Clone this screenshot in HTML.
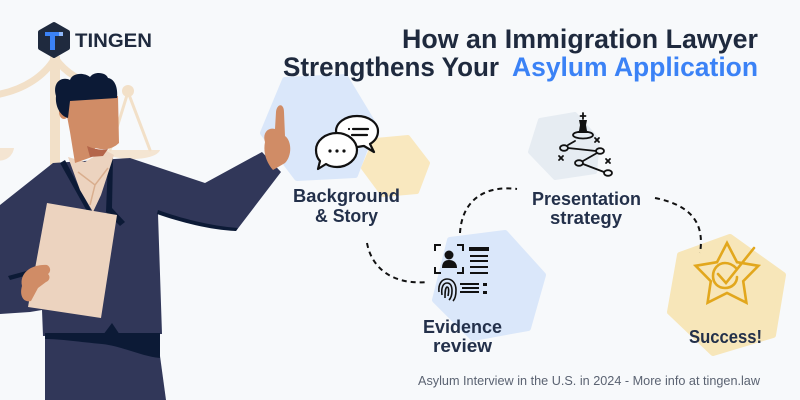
<!DOCTYPE html>
<html><head><meta charset="utf-8"><style>
html,body{margin:0;padding:0;background:#f7f9fb;}
svg{display:block;}
text{font-family:"Liberation Sans",sans-serif;}
</style></head><body>
<svg width="800" height="400" viewBox="0 0 800 400" xmlns="http://www.w3.org/2000/svg">
<rect width="800" height="400" fill="#f7f9fb"/>

<!-- Scales of justice -->
<g fill="none" stroke="#f2e0c8" stroke-linecap="round">
  <rect x="50" y="56" width="10" height="120" fill="#f2e0c8" stroke="none"/>
  <path d="M55,58 C45,75 25,90 -5,95" stroke-width="7"/>
  <path d="M55,58 C65,72 80,82 100,86" stroke-width="7"/>
  <path d="M128,92 L110,150 M128,92 L150,150" stroke-width="3"/>
</g>
<circle cx="128" cy="91" r="6" fill="#f2e0c8"/>
<path d="M104,150 L160,150 C156,162 108,162 104,150 Z" fill="#f2e0c8" opacity="0.8"/>
<path d="M-5,148 L14,148 C12,160 0,162 -5,160 Z" fill="#f2e0c8" opacity="0.8"/>

<!-- Hexagons -->
<polygon points="285,80 345,77 374,125 355,175 297,178 263,133" fill="#dae7fa" stroke="#dae7fa" stroke-width="6" stroke-linejoin="round"/>
<polygon points="375,140 408,137 428,163 417,192 383,195 363,168" fill="#f9e8bf" stroke="#f9e8bf" stroke-width="4" stroke-linejoin="round"/>
<polygon points="450,240 505,233 543,275 528,328 473,338 435,300" fill="#dae7fa" stroke="#dae7fa" stroke-width="6" stroke-linejoin="round"/>
<polygon points="540,120 575,114 598,140 595,172 555,178 530,152" fill="#e6ecf2" stroke="#e6ecf2" stroke-width="4" stroke-linejoin="round"/>
<polygon points="680,255 730,237 783,275 773,335 713,353 670,312" fill="#f7e6b9" stroke="#f7e6b9" stroke-width="6" stroke-linejoin="round"/>

<!-- Logo -->
<polygon points="54,24 68,32 68,48 54,56 40,48 40,32" fill="#1f2a3e" stroke="#1f2a3e" stroke-width="4" stroke-linejoin="round"/>
<rect x="45" y="32" width="14" height="4" fill="#3b82f6"/>
<rect x="50" y="32" width="5" height="18" fill="#3b82f6"/>
<rect x="59" y="32" width="4" height="4" fill="#8fb8fa"/>
<text x="75" y="47" font-size="19" font-weight="bold" fill="#1f2a3e" textLength="77" lengthAdjust="spacingAndGlyphs">TINGEN</text>

<!-- Title -->
<text x="402" y="48" font-size="27" font-weight="bold" fill="#1f2a3e" textLength="356" lengthAdjust="spacingAndGlyphs">How an Immigration Lawyer</text>
<text x="283" y="76" font-size="27" font-weight="bold" fill="#1f2a3e" textLength="216" lengthAdjust="spacingAndGlyphs">Strengthens Your</text>
<text x="512" y="76" font-size="27" font-weight="bold" fill="#3b82f6" textLength="246" lengthAdjust="spacingAndGlyphs">Asylum Application</text>

<!-- Figure: suit -->
<path d="M0,205 L53,163 L130,158 L205,183 L262,152 L281,172 L236,231 L158,214 L162,334 L43,336 L42,310 L30,312 L0,314 Z" fill="#313759"/>
<path d="M45,334 L157,334 L166,400 L45,400 Z" fill="#313759"/>
<path d="M45,333 L160,333 L160,358 C140,356 122,346 102,344 C80,342 60,339 45,339 Z" fill="#0c1a36"/>
<path d="M103,335 L112,323 L120,335 Z" fill="#0c1a36"/>
<path d="M157,214 C180,222 210,230 236,231 L238,228 C210,226 180,218 158,210 Z" fill="#0c1a36"/>
<path d="M8,276 L30,270 L32,274 L10,280 Z" fill="#0c1a36"/>
<!-- lapels -->
<path d="M65,160 L92,212 L88,213 L60,163 Z" fill="#0c1a36"/>
<path d="M113,158 L112,208 L125,222 L120,226 L106,212 L108,160 Z" fill="#0c1a36"/>
<!-- shirt -->
<polygon points="68,157 85,162 105,150 114,155 101,195 93,212 80,190" fill="#ecd3bf"/>
<path d="M78,172 L95,185 L108,168 M95,185 L90,205" stroke="#d9ae8e" stroke-width="1.5" fill="none"/>
<!-- face -->
<path d="M64,100 L118,96 L119,143 Q110,152 95,148 L92,157 L75,163 L70,132 Z" fill="#d08c66"/>
<path d="M87,146 Q98,151 108,149 L103,156 L90,157 Z" fill="#b4654a"/>
<ellipse cx="64" cy="112" rx="5" ry="7" fill="#d08c66"/>
<!-- hair -->
<path d="M56,96 C52,82 62,76 70,80 C72,73 84,72 90,77 C94,71 106,72 108,78 C115,79 118,88 117,98 L70,101 L68,118 C60,116 55,106 56,96 Z" fill="#0c1a36"/>
<!-- paper -->
<polygon points="47,203 117,215 101,318 28,307" fill="#ecd3bf"/>
<!-- left hand -->
<path d="M22,286 C19,272 33,264 47,265 C51,267 51,272 48,274 C51,277 49,281 46,282 L38,288 L31,301 C24,303 19,296 22,286 Z" fill="#d08c66"/>
<!-- raised hand -->
<path d="M265,142 C262,132 269,127 275,129 L276,112 C277,103 284,103 284,112 L285,136 C292,141 292,156 285,163 L273,170 C266,162 263,152 265,142 Z" fill="#d08c66"/>

<!-- Dashed connectors -->
<g fill="none" stroke="#111" stroke-width="2" stroke-dasharray="5 4">
  <path d="M367,243 C372,270 395,285 427,282"/>
  <path d="M460,233 C462,200 485,185 517,189"/>
  <path d="M655,198 C690,205 705,222 700,253"/>
</g>

<!-- Chat icon -->
<g stroke="#111" stroke-width="2.2" stroke-linejoin="round" stroke-linecap="round">
  <path d="M357,116 C369,116 378,123 378,131 C378,137 375,141 370,144 L374,152 L364,146 C362,146 359,147 357,147 C345,147 336,140 336,131 C336,123 345,116 357,116 Z" fill="#fff"/>
  <path d="M349,129 L349,129 M353,129 L368,129 M352,135 L367,135" fill="none"/>
  <path d="M337,133 C348,133 357,141 357,150 C357,159 348,167 337,167 C333,167 329,166 326,164 L318,169 L320,161 C317,158 316,154 316,150 C316,141 325,133 337,133 Z" fill="#fff"/>
</g>
<circle cx="330" cy="151" r="1.6" fill="#111"/>
<circle cx="337" cy="151" r="1.6" fill="#111"/>
<circle cx="344" cy="151" r="1.6" fill="#111"/>

<!-- Evidence icon -->
<g fill="none" stroke="#111" stroke-width="2">
  <path d="M441,245 L435,245 L435,251 M457,245 L463,245 L463,251 M435,267 L435,273 L441,273 M463,267 L463,273 L457,273"/>
  <path d="M470,256 L488,256 M470,261 L488,261 M470,267 L488,267 M470,273 L488,273"/>
  <path d="M460,284 L479,284 M462,288 L479,288 M460,292 L479,292"/>
  <path d="M439,292 C438,284 442,279 447,279 C452,279 456,283 456,290 C456,295 455,299 453,301 M442,295 C441,288 443,283 447,283 C451,283 452,287 452,291 C452,295 451,298 449,300 M445,298 C445,293 445,288 447,287 C449,287 449,291 448,296" stroke-width="1.6"/>
</g>
<rect x="469" y="247" width="20" height="4" fill="#111"/>
<circle cx="449" cy="255" r="4.5" fill="#111"/>
<path d="M442,268 C442,262 445,260 449,260 C453,260 457,262 457,268 Z" fill="#111"/>
<rect x="483" y="283" width="4" height="3" fill="#111"/>
<rect x="483" y="291" width="4" height="3" fill="#111"/>

<!-- Strategy icon -->
<g fill="none" stroke="#111" stroke-width="1.8" stroke-linecap="round">
  <ellipse cx="583" cy="135" rx="10" ry="3.5"/>
  <ellipse cx="564" cy="148" rx="4" ry="2.8"/>
  <ellipse cx="600" cy="151" rx="4" ry="2.8"/>
  <ellipse cx="579" cy="163" rx="4" ry="2.8"/>
  <ellipse cx="608" cy="173" rx="4" ry="2.8"/>
  <path d="M568,148 L596,151 M597,153 L583,161 M583,164 L604,172 M568,145 L575,141"/>
  <path d="M595,138 L599,142 M599,138 L595,142 M559,156 L563,160 M563,156 L559,160 M606,159 L610,163 M610,159 L606,163"/>
  <path d="M583,113 L583,119 M580.5,116 L585.5,116"/>
</g>
<path d="M579,120 L587,120 L586,125 L587,131 L589,133 L577,133 L579,131 L580,125 Z" fill="#111"/>

<!-- Star check icon -->
<g fill="none" stroke="#e2a71d" stroke-width="2.6" stroke-linejoin="miter" stroke-linecap="round">
  <polygon points="727,243 737,262.2 758.4,265.8 743.2,281.2 746.4,302.7 727,293 707.6,302.7 710.8,281.2 695.6,265.8 717,262.2"/>
  <path d="M736,268 C733,265 729,263 725,263 C718,263 713,269 713,276 C713,283 718,288 725,288 C732,288 737,283 737,277"/>
  <path d="M718,274 L726,283 L754,248"/>
</g>

<!-- Labels -->
<g font-weight="bold" fill="#23304a" font-size="18">
  <text x="293" y="202" textLength="107" lengthAdjust="spacingAndGlyphs">Background</text>
  <text x="315" y="222" textLength="63" lengthAdjust="spacingAndGlyphs">&amp; Story</text>
  <text x="423" y="333" textLength="79" lengthAdjust="spacingAndGlyphs">Evidence</text>
  <text x="433" y="352" textLength="59" lengthAdjust="spacingAndGlyphs">review</text>
  <text x="532" y="205" textLength="109" lengthAdjust="spacingAndGlyphs">Presentation</text>
  <text x="550" y="224" textLength="72" lengthAdjust="spacingAndGlyphs">strategy</text>
  <text x="689" y="343" textLength="73" lengthAdjust="spacingAndGlyphs">Success!</text>
</g>

<!-- Footer -->
<text x="418" y="385" font-size="13" fill="#5b6372" textLength="342" lengthAdjust="spacingAndGlyphs">Asylum Interview in the U.S. in 2024 - More info at tingen.law</text>
</svg>
</body></html>
